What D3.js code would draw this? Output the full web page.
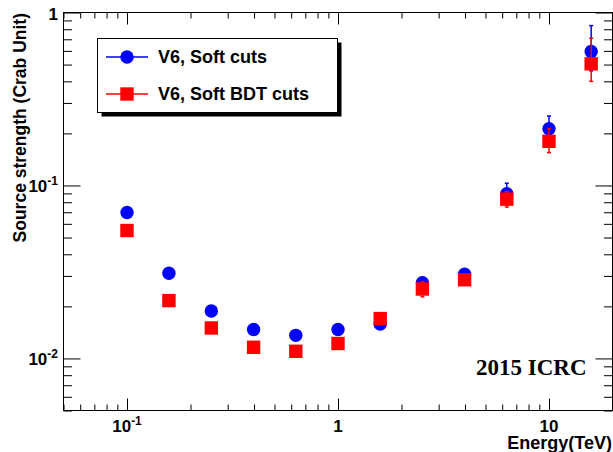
<!DOCTYPE html>
<html>
<head>
<meta charset="utf-8">
<script src="https://cdn.jsdelivr.net/npm/d3@7"></script>
<style>
  body { margin: 0; background: #fff; }
  svg { display: block; }
  text { font-family: "Liberation Sans", Arial, sans-serif; font-weight: bold; }
</style>
</head>
<body>
<svg width="613" height="452"></svg>
<script>
// energy bins (TeV)
const energy = [0.1, 0.158, 0.251, 0.398, 0.631, 1.0, 1.585, 2.512, 3.981, 6.31, 10.0, 15.85];

// V6, Soft cuts
const softCuts = [0.0698, 0.0311, 0.0188, 0.0147, 0.0136, 0.0147, 0.0158, 0.0274, 0.0307, 0.0897, 0.213, 0.595];
const softLo = [0.067, 0.030, 0.0182, 0.0142, 0.0131, 0.0142, 0.0153, 0.0262, 0.0295, 0.078, 0.185, 0.46];
const softHi = [0.0726, 0.0322, 0.0194, 0.0152, 0.0141, 0.0152, 0.0163, 0.0286, 0.0319, 0.103, 0.252, 0.84];

// V6, Soft BDT cuts
const bdtCuts = [0.0549, 0.0216, 0.0150, 0.0116, 0.0110, 0.0122, 0.0170, 0.0252, 0.0285, 0.0833, 0.180, 0.505];
const bdtLo = [0.0530, 0.0207, 0.0144, 0.0111, 0.0105, 0.0117, 0.0163, 0.0227, 0.0272, 0.075, 0.155, 0.40];
const bdtHi = [0.0568, 0.0225, 0.0156, 0.0121, 0.0115, 0.0127, 0.0177, 0.0278, 0.0298, 0.092, 0.213, 0.71];

const xMajor = [0.1, 1, 10];
const xLabels = [["10", "-1"], ["1", ""], ["10", ""]];
const yMajor = [0.01, 0.1, 1];
const yLabels = [["10", "-2"], ["10", "-1"], ["1", ""]];

const svg = d3.select("svg");

const x = d3.scaleLog().domain([0.05, 20]).range([63.5, 612.5]);
const y = d3.scaleLog().domain([0.005, 1]).range([410.5, 12.5]);

const xMinor = x.ticks().filter(d => !xMajor.some(m => Math.abs(m - d) < 1e-9));
const yMinor = y.ticks().filter(d => !yMajor.some(m => Math.abs(m - d) < 1e-9));

// frame
svg.append("rect")
  .attr("x", 63.5).attr("y", 12.5)
  .attr("width", 549).attr("height", 398)
  .attr("fill", "none").attr("stroke", "#000").attr("stroke-width", 1);

// ticks, drawn on all four sides like ROOT
function ticks(axis, vals, size, transform) {
  const g = svg.append("g").attr("transform", transform)
    .call(axis.tickValues(vals).tickSize(size).tickSizeOuter(0).tickFormat(""));
  g.select(".domain").remove();
  g.selectAll("line").attr("stroke", "#000").attr("stroke-width", 1);
}
ticks(d3.axisTop(x), xMajor, 12, "translate(0,410.5)");
ticks(d3.axisTop(x), xMinor, 6, "translate(0,410.5)");
ticks(d3.axisBottom(x), xMajor, 12, "translate(0,12.5)");
ticks(d3.axisBottom(x), xMinor, 6, "translate(0,12.5)");
ticks(d3.axisRight(y), yMajor, 17, "translate(63.5,0)");
ticks(d3.axisRight(y), yMinor, 8.5, "translate(63.5,0)");
ticks(d3.axisLeft(y), yMajor, 17, "translate(612.5,0)");
ticks(d3.axisLeft(y), yMinor, 8.5, "translate(612.5,0)");

// tick labels
xMajor.forEach((v, i) => {
  const t = svg.append("text")
    .attr("x", x(v)).attr("y", 432)
    .attr("text-anchor", "middle").attr("font-size", 17)
    .text(xLabels[i][0]);
  if (xLabels[i][1]) t.append("tspan").attr("font-size", 12).attr("dy", -7).text(xLabels[i][1]);
});
yMajor.forEach((v, i) => {
  const t = svg.append("text")
    .attr("x", 58).attr("y", y(v) + 7)
    .attr("text-anchor", "end").attr("font-size", 17)
    .text(yLabels[i][0]);
  if (yLabels[i][1]) t.append("tspan").attr("font-size", 12).attr("dy", -7).text(yLabels[i][1]);
});

// axis titles
svg.append("text")
  .attr("x", 612).attr("y", 448.5)
  .attr("text-anchor", "end").attr("font-size", 18)
  .text("Energy(TeV)");
svg.append("text")
  .attr("transform", "translate(26,13) rotate(-90)")
  .attr("text-anchor", "end").attr("font-size", 17.5)
  .text("Source strength (Crab Unit)");

// data
function series(vals, lo, hi, color, shape) {
  const g = svg.append("g");
  energy.forEach((e, i) => {
    const cx = x(e);
    g.append("line")
      .attr("x1", cx).attr("x2", cx)
      .attr("y1", y(lo[i])).attr("y2", y(hi[i]))
      .attr("stroke", color).attr("stroke-width", 1.5);
    [lo[i], hi[i]].forEach(b => {
      g.append("line")
        .attr("x1", cx - 2).attr("x2", cx + 2)
        .attr("y1", y(b)).attr("y2", y(b))
        .attr("stroke", color).attr("stroke-width", 1.5);
    });
  });
  if (shape === "circle") {
    g.selectAll("circle").data(energy).join("circle")
      .attr("cx", d => x(d)).attr("cy", (d, i) => y(vals[i]))
      .attr("r", 6.7).attr("fill", color);
  } else {
    g.selectAll("rect").data(energy).join("rect")
      .attr("x", d => x(d) - 6.7).attr("y", (d, i) => y(vals[i]) - 6.7)
      .attr("width", 13.4).attr("height", 13.4).attr("fill", color);
  }
}
series(softCuts, softLo, softHi, "#0000ff", "circle");
series(bdtCuts, bdtLo, bdtHi, "#ff0000", "square");

// legend
const leg = svg.append("g");
leg.append("rect")
  .attr("x", 101.5).attr("y", 42.5).attr("width", 240).attr("height", 74)
  .attr("fill", "#000");
leg.append("rect")
  .attr("x", 97.5).attr("y", 38.5).attr("width", 240).attr("height", 74)
  .attr("fill", "#fff").attr("stroke", "#000").attr("stroke-width", 1);
const entries = [["V6, Soft cuts", "#0000ff", "circle"], ["V6, Soft BDT cuts", "#ff0000", "square"]];
entries.forEach((en, i) => {
  const ly = 57 + i * 37;
  leg.append("line")
    .attr("x1", 106).attr("x2", 148).attr("y1", ly).attr("y2", ly)
    .attr("stroke", en[1]).attr("stroke-width", 1.5);
  if (en[2] === "circle") {
    leg.append("circle").attr("cx", 127).attr("cy", ly).attr("r", 6.7).attr("fill", en[1]);
  } else {
    leg.append("rect").attr("x", 120.3).attr("y", ly - 6.7)
      .attr("width", 13.4).attr("height", 13.4).attr("fill", en[1]);
  }
  leg.append("text")
    .attr("x", 158).attr("y", ly + 6)
    .attr("font-size", 18)
    .text(en[0]);
});

// conference tag
svg.append("text")
  .attr("x", 476).attr("y", 375)
  .style("font-family", "'Liberation Serif', 'Times New Roman', serif")
  .attr("font-size", 23)
  .text("2015 ICRC");
</script>
</body>
</html>
